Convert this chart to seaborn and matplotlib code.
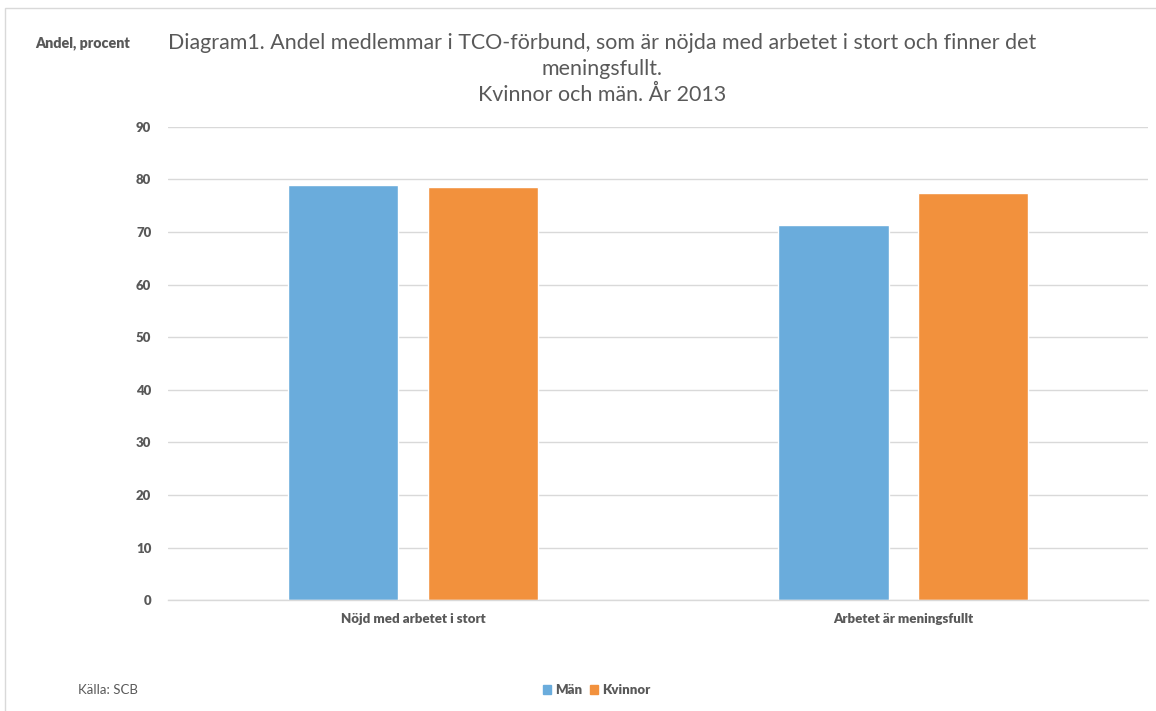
import matplotlib
matplotlib.use("Agg")
import matplotlib.pyplot as plt
import seaborn as sns
import pandas as pd
from matplotlib.patches import Rectangle

categories = ["Nöjd med arbetet i stort", "Arbetet är meningsfullt"]
series_names = ["Män", "Kvinnor"]
man_values = [78.9, 71.3]
kvinnor_values = [78.5, 77.5]
y_ticks = [0, 10, 20, 30, 40, 50, 60, 70, 80, 90]

colors = ["#6AACDC", "#F2913D"]
text_gray = "#595959"

df = pd.DataFrame({
    "kategori": categories * 2,
    "kön": [series_names[0]] * 2 + [series_names[1]] * 2,
    "andel": man_values + kvinnor_values,
})

sns.set_theme(style="white")
plt.rcParams["font.family"] = ["Lato", "DejaVu Sans"]

fig = plt.figure(figsize=(11.56, 7.11), dpi=100)
ax = fig.add_axes([0.1453, 0.156, 0.848, 0.6655])

sns.barplot(data=df, x="kategori", y="andel", hue="kön", order=categories,
            hue_order=series_names, palette=colors, width=0.57, gap=0.21,
            saturation=1, ax=ax, legend=False)

ax.set_ylim(0, 90)
ax.set_xlim(-0.5, 1.5)
ax.set_yticks(y_ticks)
ax.yaxis.grid(True, color="#D9D9D9", linewidth=1)
ax.set_axisbelow(True)
for side in ["top", "right", "left"]:
    ax.spines[side].set_visible(False)
ax.spines["bottom"].set_color("#D9D9D9")
ax.spines["bottom"].set_linewidth(1)
ax.tick_params(axis="both", length=0)
ax.tick_params(axis="y", pad=12)
ax.tick_params(axis="x", pad=9)
for lbl in ax.get_yticklabels() + ax.get_xticklabels():
    lbl.set_fontweight("heavy")
    lbl.set_color(text_gray)
    lbl.set_fontsize(9.5)
ax.set_xlabel("")
ax.set_ylabel("")

# chart frame
fig.patches.append(Rectangle((5 / 1156, -0.02), 1.02, 1 - 8 / 711 + 0.02,
                             transform=fig.transFigure, fill=False,
                             edgecolor="#D9D9D9", linewidth=1))

fig.text(0.521, 1 - 33 / 711,
         "Diagram1. Andel medlemmar i TCO-förbund, som är nöjda med arbetet i stort och finner det\nmeningsfullt.\nKvinnor och män. År 2013",
         ha="center", va="top", fontsize=15.4, color=text_gray, linespacing=1.37)
fig.text(35 / 1156, 1 - 43 / 711, "Andel, procent", ha="left", va="center",
         fontsize=10.3, fontweight="heavy", color=text_gray)
fig.text(78 / 1156, 1 - 690 / 711, "Källa: SCB", ha="left", va="center",
         fontsize=9.5, color=text_gray)

handles = [Rectangle((0, 0), 1, 1, color=c) for c in colors]
leg = fig.legend(handles, series_names, loc="center", bbox_to_anchor=(597 / 1156, 1 - 690 / 711),
                 ncol=2, frameon=False, handlelength=0.6, handleheight=0.6,
                 handletextpad=0.3, columnspacing=0.6,
                 prop={"size": 9.5, "weight": "heavy"})
for t in leg.get_texts():
    t.set_color(text_gray)

fig.savefig("out.png", dpi=100)
